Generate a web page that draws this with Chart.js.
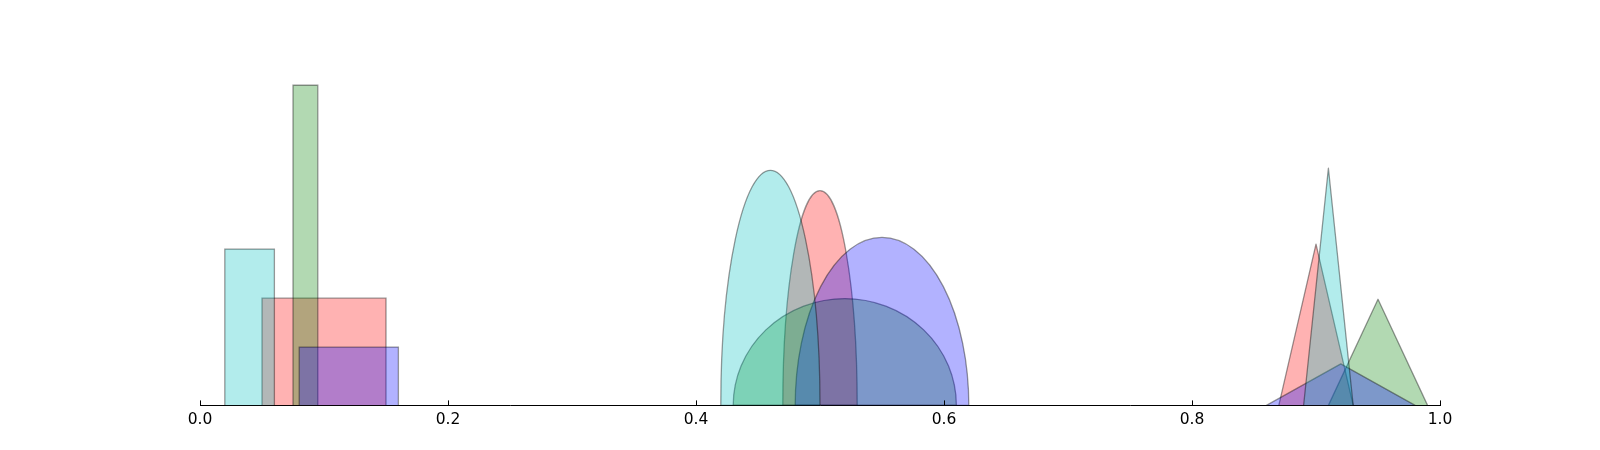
<!DOCTYPE html>
<html>
<head>
<meta charset="utf-8">
<script src="https://cdn.jsdelivr.net/npm/chart.js@4/dist/chart.umd.min.js"></script>
<style>
  html, body { margin: 0; padding: 0; background: #fff; }
  #wrap { width: 1600px; height: 450px; }
</style>
</head>
<body>
<div id="wrap"><canvas id="grafico"></canvas></div>
<script>
// colores de cada serie (el ultimo queda encima)
const seriesColors = ['rgba(255,0,0,0.3)', 'rgba(0,128,0,0.3)', 'rgba(0,0,255,0.3)', 'rgba(0,191,191,0.3)'];

// rectangulos
const rectLeft   = [0.05, 0.075, 0.08, 0.02];
const rectRight  = [0.15, 0.095, 0.16, 0.06];
const rectHeight = [0.305, 0.911, 0.166, 0.445];

// semi elipses
const ellCenter = [0.50, 0.52, 0.55, 0.46];
const ellWidth  = [0.06, 0.18, 0.14, 0.08];
const ellHeight = [0.611, 0.304, 0.478, 0.669];

// triangulos
const triLeft   = [0.87, 0.91, 0.86, 0.89];
const triApex   = [0.90, 0.95, 0.92, 0.91];
const triRight  = [0.93, 0.99, 0.98, 0.93];
const triHeight = [0.459, 0.302, 0.118, 0.675];

// ticks del eje x
const xTicks = [0.0, 0.2, 0.4, 0.6, 0.8, 1.0];

const edgeColor = 'rgba(0,0,0,0.4)';

let datasets = [];
seriesColors.forEach((c, i) => {
    datasets.push({
        label: 'rect' + i,
        data: [
            { x: rectLeft[i], y: 0 }, { x: rectLeft[i], y: rectHeight[i] },
            { x: rectRight[i], y: rectHeight[i] }, { x: rectRight[i], y: 0 }
        ],
        backgroundColor: c,
        borderColor: edgeColor,
        order: 3 - i
    });
    datasets.push({
        label: 'tri' + i,
        data: [
            { x: triLeft[i], y: 0 }, { x: triApex[i], y: triHeight[i] }, { x: triRight[i], y: 0 }
        ],
        backgroundColor: c,
        borderColor: edgeColor,
        borderJoinStyle: 'round',
        order: 3 - i
    });
});

// elipses dibujadas con las escalas del grafico
const elipses = {
    id: 'elipses',
    beforeDatasetsDraw(chart) {
        const ctx = chart.ctx;
        const xs = chart.scales.x, ys = chart.scales.y;
        ctx.save();
        ctx.beginPath();
        ctx.rect(chart.chartArea.left, chart.chartArea.top, chart.chartArea.width, chart.chartArea.height);
        ctx.clip();
        seriesColors.forEach((c, i) => {
            const cx = xs.getPixelForValue(ellCenter[i]);
            const rx = xs.getPixelForValue(ellCenter[i] + ellWidth[i] / 2) - cx;
            const base = ys.getPixelForValue(0);
            const ry = base - ys.getPixelForValue(ellHeight[i]);
            ctx.beginPath();
            ctx.ellipse(cx, base, rx, ry, 0, Math.PI, 2 * Math.PI);
            ctx.closePath();
            ctx.fillStyle = c;
            ctx.fill();
            ctx.lineWidth = 1.3;
            ctx.strokeStyle = edgeColor;
            ctx.stroke();
        });
        ctx.restore();
    },
    afterDraw(chart) {
        // ticks hacia adentro
        const ctx = chart.ctx;
        const xs = chart.scales.x;
        const bottom = chart.chartArea.bottom;
        ctx.save();
        ctx.strokeStyle = '#000';
        ctx.lineWidth = 1;
        xTicks.forEach(t => {
            const px = Math.round(xs.getPixelForValue(t)) + 0.5;
            ctx.beginPath();
            ctx.moveTo(px, bottom);
            ctx.lineTo(px, bottom - 5);
            ctx.stroke();
        });
        ctx.restore();
    }
};

const ctx = document.getElementById('grafico').getContext('2d');
const myChart = new Chart(ctx, {
    type: 'line',
    data: { datasets: datasets },
    options: {
        responsive: true,
        maintainAspectRatio: false,
        animation: false,
        layout: { padding: { left: 200, right: 160, top: 54, bottom: 16 } },
        elements: {
            line: { borderWidth: 1.3, tension: 0, fill: 'origin' },
            point: { radius: 0, hoverRadius: 0 }
        },
        plugins: { legend: { display: false }, tooltip: { enabled: false } },
        scales: {
            x: {
                type: 'linear',
                min: 0, max: 1,
                afterBuildTicks: (scale) => { scale.ticks = xTicks.map(v => ({ value: v })); },
                ticks: {
                    color: '#000',
                    padding: 5,
                    maxRotation: 0,
                    font: { family: 'DejaVu Sans', size: 15.5 },
                    callback: (v) => Number(v).toFixed(1)
                },
                grid: { display: false, drawTicks: false },
                border: { display: true, color: '#000', width: 1 }
            },
            y: {
                type: 'linear',
                min: 0, max: 1,
                display: false
            }
        }
    },
    plugins: [elipses]
});
</script>
</body>
</html>
